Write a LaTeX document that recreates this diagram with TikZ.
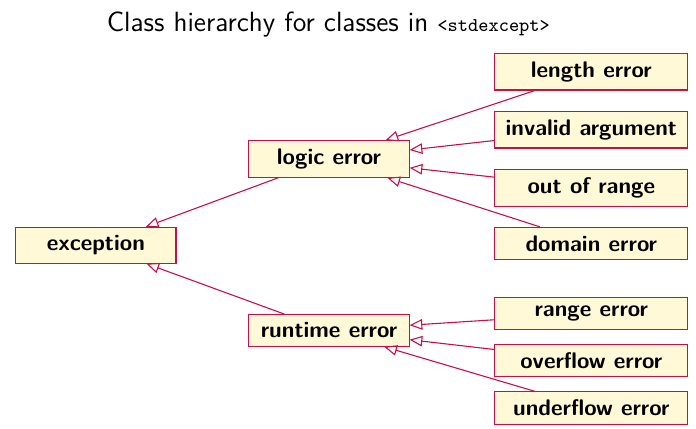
\documentclass[tikz,border=0pt]{standalone}
\usepackage{fontspec}
\usepackage{tikz}
\usetikzlibrary{arrows.meta,positioning}
\definecolor{edgered}{RGB}{200,16,72}
\definecolor{paleyellow}{RGB}{255,249,215}

\begin{document}
\begin{tikzpicture}[>=Latex]
  \tikzset{cls/.style={draw=edgered,fill=paleyellow,line width=0.5pt,minimum width=2.57cm,inner xsep=2pt,inner ysep=3.7pt,font=\sffamily\bfseries\fontsize{10.3}{12}\selectfont,anchor=north}}
  \tikzset{leaf/.style={cls,minimum width=3.1cm}}
  \tikzset{isa/.style={-{Triangle[open,length=5.8pt,width=4.8pt]},draw=edgered,line width=0.5pt}}
  \useasboundingbox (0,0) rectangle (11.17,6.87);
  \node[anchor=base,font=\sffamily\fontsize{12.7}{15}\selectfont] (title) at (5.27,6.36)
    {Class hierarchy for classes in {\ttfamily\fontsize{8.9}{10}\selectfont <stdexcept>}};
  % base and its two direct subclasses
  \node[cls] (exc) at (1.54,3.23) {exception};
  \node[cls] (logic) at (5.28,4.62) {logic error};
  \node[cls] (runtime) at (5.28,1.83) {runtime error};
  % logic error family
  \node[leaf] (length) at (9.49,6.02) {length error};
  \node[leaf] (invalid) at (9.49,5.09) {invalid argument};
  \node[leaf] (outrange) at (9.49,4.16) {out of range};
  \node[leaf] (domain) at (9.49,3.23) {domain error};
  % runtime error family
  \node[leaf] (range) at (9.49,2.10) {range error};
  \node[leaf] (overflow) at (9.49,1.35) {overflow error};
  \node[leaf] (underflow) at (9.49,0.59) {underflow error};
  \draw[isa] (logic) -- (exc);
  \draw[isa] (runtime) -- (exc);
  \draw[isa] (length) -- (logic);
  \draw[isa] (invalid) -- (logic);
  \draw[isa] (outrange) -- (logic);
  \draw[isa] (domain) -- (logic);
  \draw[isa] (range) -- (runtime);
  \draw[isa] (overflow) -- (runtime);
  \draw[isa] (underflow) -- (runtime);
\end{tikzpicture}
\end{document}
